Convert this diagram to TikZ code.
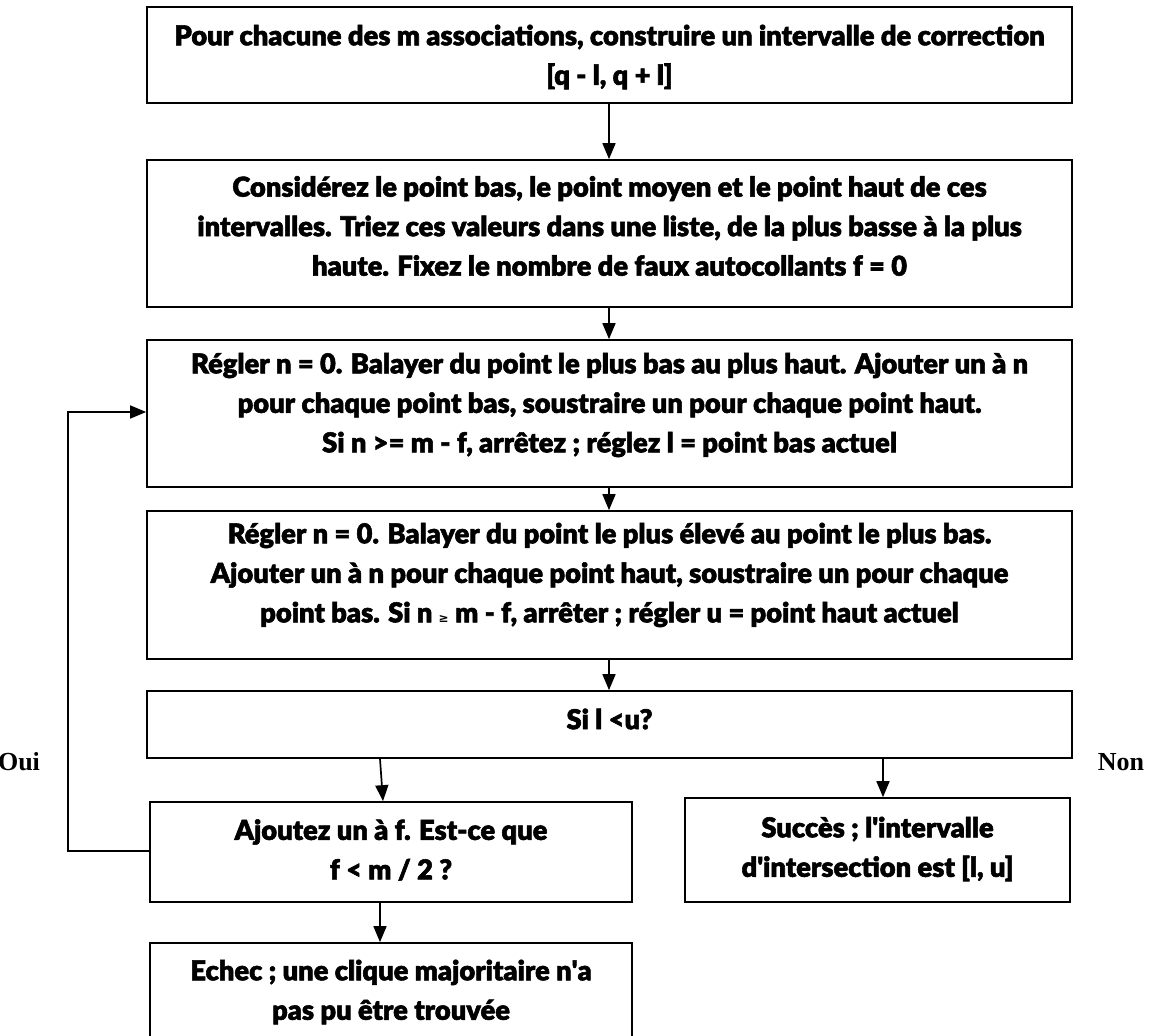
\documentclass[tikz,border=0pt]{standalone}
\usepackage{fontspec}
\setmainfont{Lato}[BoldFont={Lato Black}, BoldFeatures={FakeBold=2}]
\newfontfamily\labelfont{Liberation Serif}
\newfontfamily\symfont{DejaVu Sans}
\usetikzlibrary{arrows.meta}

\tikzset{
  box/.style={draw, line width=1.7pt, inner sep=0pt},
  txt/.style={align=center, inner sep=0pt,
    font=\bfseries\fontsize{27.3}{39.5}\selectfont},
  arr/.style={-{Triangle[length=16pt,width=13pt]}, line width=1.7pt},
  side/.style={font=\labelfont\bfseries\fontsize{26}{30}\selectfont, inner sep=0pt},
}

\begin{document}
\begin{tikzpicture}[x=1pt, y=-1pt]
\useasboundingbox (0,0) rectangle (1158,1035);

% process boxes
\node[box, minimum width=925, minimum height=96]  (b1) at (609.5,55)   {};
\node[box, minimum width=925, minimum height=147] (b2) at (609.5,233.5) {};
\node[box, minimum width=925, minimum height=147] (b3) at (609.5,413.5) {};
\node[box, minimum width=925, minimum height=148] (b4) at (609.5,585)  {};
\node[box, minimum width=925, minimum height=67]  (b5) at (609.5,724.5) {};
\node[box, minimum width=482, minimum height=100] (b6) at (391,852)    {};
\node[box, minimum width=385, minimum height=104] (b7) at (877.5,850)  {};
\node[box, minimum width=482, minimum height=110] (b8) at (391,998)    {};

% box texts
\node[txt] (t1) at (609.5,57) {Pour chacune des m associations, construire un intervalle de correction\\{[}q - l, q + l]};
\node[txt] (t2) at (609.5,226) {Considérez le point bas, le point moyen et le point haut de ces\\intervalles. Triez ces valeurs dans une liste, de la plus basse à la plus\\haute. Fixez le nombre de faux autocollants f = 0};
\node[txt] (t3) at (609.5,405) {Régler n = 0. Balayer du point le plus bas au plus haut. Ajouter un à n\\pour chaque point bas, soustraire un pour chaque point haut.\\Si n >= m - f, arrêtez ; réglez l = point bas actuel};
\node[txt] (t4) at (609.5,575) {Régler n = 0. Balayer du point le plus élevé au point le plus bas.\\Ajouter un à n pour chaque point haut, soustraire un pour chaque\\point bas. Si n {\symfont\fontsize{12}{12}\selectfont ≥} m - f, arrêter ; régler u = point haut actuel};
\node[txt] (t5) at (609.5,719) {Si l <u?};
\node[txt] (t6) at (391,850) {Ajoutez un à f. Est-ce que\\f < m / 2 ?};
\node[txt] (t7) at (877.5,849) {Succès ; l\textquotesingle intervalle\\d\textquotesingle intersection est [l, u]};
\node[txt] (t8) at (391,992) {Echec ; une clique majoritaire n\textquotesingle a\\pas pu être trouvée};

% branch labels
\node[side] (oui) at (19,762) {Oui};
\node[side] (non) at (1121,762) {Non};

% main flow
\draw[arr] (b1.south -| 609,0) -- (b2.north -| 609,0);
\draw[arr] (b2.south -| 609,0) -- (b3.north -| 609,0);
\draw[arr] (b3.south -| 609,0) -- (b4.north -| 609,0);
\draw[arr] (b4.south -| 609,0) -- (b5.north -| 609,0);
\draw[arr] (b5.south -| 380,0) -- (b6.north -| 383,0);
\draw[arr] (b5.south -| 883,0) -- (b7.north -| 883,0);
\draw[arr] (b6.south -| 380,0) -- (b8.north -| 380,0);

% loop back to the scan step
\coordinate (lb) at (68,851);
\coordinate (lt) at (68,412);
\draw[arr] (b6.west |- lb) -- (lb) -- (lt) -- (b3.west |- lt);
\end{tikzpicture}
\end{document}
